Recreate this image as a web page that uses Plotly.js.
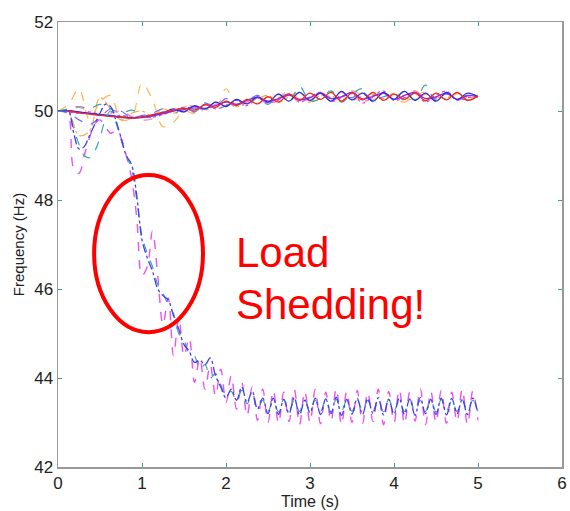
<!DOCTYPE html>
<html>
<head>
<meta charset="utf-8">
<script src="https://cdn.plot.ly/plotly-3.0.1.min.js"></script>
<style>html,body{margin:0;padding:0;background:#fff;}#chart{width:570px;height:511px;}</style>
</head>
<body>
<div id="chart"></div>
<script>
// Time grids (s)
const timeFine = [0,0.0625,0.125,0.1875,0.25,0.3125,0.375,0.4375,0.5,0.5625,0.625,0.6875,0.75,0.8125,0.875,0.9375,1,1.0625,1.125,1.1875,1.25,1.3125,1.375,1.4375,1.5,1.5625,1.625,1.6875,1.75,1.8125,1.875,1.9375,2,2.0625,2.125,2.1875,2.25,2.3125,2.375,2.4375,2.5,2.5625,2.625,2.6875,2.75,2.8125,2.875,2.9375,3,3.0625,3.125,3.1875,3.25,3.3125,3.375,3.4375,3.5,3.5625,3.625,3.6875,3.75,3.8125,3.875,3.9375,4,4.0625,4.125,4.1875,4.25,4.3125,4.375,4.4375,4.5,4.5625,4.625,4.6875,4.75,4.8125,4.875,4.9375,5];
const timeCoarse = [0,0.125,0.25,0.375,0.5,0.625,0.75,0.875,1,1.125,1.25,1.375,1.5,1.625,1.75,1.875,2,2.125,2.25,2.375,2.5,2.625,2.75,2.875,3,3.125,3.25,3.375,3.5,3.625,3.75,3.875,4,4.125,4.25,4.375,4.5,4.625,4.75,4.875,5];

// Collapsing buses (Hz)
const collapseBlue = [50.00,50.00,50.00,49.50,49.15,49.20,49.45,49.70,49.95,50.15,
  50.10,49.80,49.40,49.00,48.80,48.10,47.10,46.70,46.40,46.00,
  45.85,45.75,45.40,45.10,44.75,44.60,44.35,44.40,44.30,44.45,
  44.05,43.80,43.55,43.75,43.50,43.80,43.45,43.70,43.30,43.55,
  43.20,43.55,43.18,43.52,43.20,43.56,43.17,43.50,43.22,43.55,
  43.18,43.53,43.20,43.57,43.16,43.52,43.19,43.55,43.18,43.54,
  43.20,43.56,43.17,43.52,43.19,43.55,43.18,43.53,43.16,43.56,
  43.20,43.52,43.18,43.55,43.17,43.54,43.20,43.52,43.18,43.55,43.20];
const collapseTeal = [50.00,50.00,49.95,49.60,49.25,49.00,48.95,49.10,49.40,49.80,
  50.00,49.75,49.35,49.00,48.70,48.00,47.20,46.80,46.50,46.10,
  45.90,45.65,45.45,45.00,44.85,44.55,44.50,44.20,44.30,44.00,
  44.10,43.85,43.60,43.70,43.48,43.72,43.42,43.62,43.30,43.50,
  43.25,43.50,43.24,43.52,43.26,43.50,43.25,43.51,43.27,43.50,
  43.25,43.50,43.24,43.52,43.26,43.50,43.25,43.51,43.27,43.50,
  43.25,43.50,43.24,43.52,43.26,43.50,43.25,43.51,43.27,43.50,
  43.25,43.50,43.24,43.52,43.26,43.50,43.25,43.51,43.27,43.50,43.25];
const collapseMagenta = [50.00,50.00,49.90,48.70,48.60,49.00,49.40,49.70,49.80,49.65,
  49.50,49.55,49.40,49.00,48.50,47.60,46.30,46.50,47.30,46.30,
  45.20,45.80,44.50,45.35,44.50,44.90,43.90,44.45,43.75,44.30,
  43.60,44.20,43.45,44.05,43.30,43.90,43.15,43.80,43.05,43.75,
  43.00,43.72,42.98,43.68,43.02,43.75,42.95,43.70,43.00,43.74,
  42.97,43.68,43.03,43.76,42.95,43.70,43.00,43.72,42.98,43.68,
  43.02,43.75,42.95,43.70,43.00,43.74,42.97,43.68,43.03,43.76,
  42.95,43.70,43.00,43.72,42.98,43.68,43.02,43.75,42.95,43.70,43.05];

// Surviving buses (Hz)
const busRed = [50.00,50.00,49.96,49.93,49.90,49.88,49.86,49.84,49.86,49.92,49.97,50.02,50.06,50.02,50.14,50.08,50.22,50.12,50.26,50.16,50.32,50.20,50.38,50.24,50.40,50.26,50.42,50.22,50.40,50.25,50.42,50.24,50.38,50.26,50.41,50.23,50.40,50.25,50.42,50.24,50.34];
const busBlue = [50.00,50.01,49.98,49.94,49.92,49.89,49.87,49.85,49.87,49.91,49.96,50.05,49.98,50.12,50.04,50.20,50.10,50.26,50.16,50.32,50.20,50.38,50.22,50.42,50.24,50.40,50.22,50.44,50.25,50.40,50.22,50.42,50.26,50.44,50.24,50.40,50.22,50.42,50.26,50.40,50.32];
const busPurple = [50.00,50.00,49.97,49.95,49.92,49.90,49.86,49.84,49.85,49.89,49.94,50.00,50.03,50.10,50.06,50.12,50.20,50.15,50.24,50.30,50.22,50.28,50.36,50.26,50.30,50.40,50.28,50.32,50.42,50.27,50.33,50.40,50.26,50.35,50.42,50.28,50.32,50.40,50.26,50.34,50.33];
const busTeal = [50.00,50.05,50.10,50.05,50.15,50.05,49.95,50.02,49.90,49.85,49.98,49.92,50.10,49.98,50.18,50.05,50.12,50.25,50.10,50.32,50.15,50.38,50.20,50.55,50.22,50.28,50.45,50.20,50.38,50.50,50.22,50.40,50.28,50.45,50.25,50.58,50.22,50.40,50.30,50.25,50.32];
const busPink = [50.00,50.02,50.08,49.98,49.90,49.95,50.00,49.88,49.80,49.82,49.95,50.05,49.98,50.10,50.02,50.15,50.22,50.08,50.20,50.30,50.15,50.25,50.38,50.20,50.30,50.42,50.25,50.32,50.45,50.22,50.30,50.40,50.25,50.35,50.45,50.28,50.30,50.42,50.25,50.35,50.30];
const busOrangeA = [50.00,50.15,50.50,49.80,50.20,50.35,49.80,49.85,50.62,50.25,49.65,49.75,50.00,49.95,50.15,50.05,50.50,50.10,50.20,50.35,50.20,50.30,50.45,50.25,50.20,50.40,50.30,50.22,50.45,50.35,50.25,50.40,50.30,50.20,50.35,50.42,50.25,50.30,50.38,50.25,50.30];
const busOrangeB = [50.00,49.95,49.45,49.55,50.30,50.05,49.80,49.95,50.00,49.88,50.05,49.95,50.08,50.12,50.00,50.20,50.12,50.25,50.18,50.28,50.35,50.20,50.32,50.40,50.22,50.35,50.30,50.42,50.25,50.33,50.38,50.28,50.40,50.30,50.25,50.38,50.32,50.28,50.40,50.30,50.32];
const busMagenta = [50.00,49.98,49.95,49.98,49.92,49.88,49.90,49.86,49.88,49.86,49.92,50.00,50.08,49.98,50.15,50.05,50.12,50.24,50.12,50.30,50.18,50.25,50.38,50.20,50.32,50.42,50.22,50.30,50.40,50.18,50.34,50.45,50.24,50.30,50.42,50.20,50.36,50.44,50.24,50.30,50.33];
const busLightBlue = [50.00,49.95,49.80,49.70,49.85,50.05,50.00,49.85,49.90,49.95,50.05,50.00,50.10,50.05,50.18,50.10,50.28,50.15,50.22,50.35,50.20,50.30,50.38,50.25,50.30,50.40,50.22,50.35,50.30,50.42,50.25,50.32,50.38,50.25,50.40,50.30,50.28,50.38,50.30,50.35,50.33];

const xTicks = [0,1,2,3,4,5,6];
const yTicks = [42,44,46,48,50,52];

function tr(x, y, color, dash, width) {
  return {x: x, y: y, type: 'scatter', mode: 'lines',
    line: {color: color, dash: dash, width: width || 1.2, shape: 'spline', smoothing: 1},
    hoverinfo: 'skip', showlegend: false};
}

const data = [
  tr(timeCoarse, busOrangeA, '#ffb84d', 'dash'),
  tr(timeCoarse, busOrangeB, '#f8a840', 'dashdot'),
  tr(timeCoarse, busTeal, '#3aa5a5', 'dash'),
  tr(timeCoarse, busPink, '#ff80c0', 'dash'),
  tr(timeCoarse, busLightBlue, '#7070ff', 'dash'),
  tr(timeCoarse, busMagenta, '#e040e0', 'dot'),
  tr(timeCoarse, busPurple, '#8a2be2', 'solid', 1.3),
  tr(timeCoarse, busBlue, '#2a2ae8', 'solid', 1.2),
  tr(timeCoarse, busRed, '#f02828', 'solid', 1.3),
  tr(timeFine, collapseMagenta, '#f050f0', 'dash', 1.4),
  tr(timeFine, collapseTeal, '#40a8a8', 'dash', 1.2),
  tr(timeFine, collapseBlue, '#4040f0', 'dashdot', 1.3)
];

const axisFont = {family: 'Liberation Sans, Arial, sans-serif', size: 17, color: '#222'};

const layout = {
  width: 570, height: 511,
  margin: {l: 58, r: 8, t: 22, b: 44, pad: 0},
  paper_bgcolor: '#fff', plot_bgcolor: '#fff',
  xaxis: {
    range: [0, 6], tickvals: xTicks, ticktext: xTicks.map(String),
    ticks: 'inside', ticklen: 4, tickcolor: '#3a9c9c', tickwidth: 1,
    showline: true, linecolor: '#999', linewidth: 1.5, mirror: 'ticks',
    showgrid: false, zeroline: false, tickfont: axisFont,
    title: {text: 'Time (s)', font: {family: 'Liberation Sans, Arial, sans-serif', size: 16, color: '#222'}, standoff: 0}
  },
  yaxis: {
    range: [42, 52], tickvals: yTicks, ticktext: yTicks.map(String),
    ticks: 'inside', ticklen: 4, tickcolor: '#3a9c9c', tickwidth: 1,
    showline: true, linecolor: '#999', linewidth: 1.5, mirror: 'ticks',
    showgrid: false, zeroline: false, tickfont: axisFont,
    title: {text: 'Frequency (Hz)', font: {family: 'Liberation Sans, Arial, sans-serif', size: 15, color: '#222'}, standoff: 6}
  },
  shapes: [{type: 'circle', xref: 'x', yref: 'y', x0: 0.43, x1: 1.726, y0: 45.03, y1: 48.56,
    line: {color: '#ff0000', width: 4}}],
  annotations: [
    {text: 'Load', xref: 'x', yref: 'y', x: 2.1, y: 46.83, xanchor: 'left', yanchor: 'middle', showarrow: false,
     font: {family: 'Liberation Sans, Arial, sans-serif', size: 42, color: '#ff0000'}},
    {text: 'Shedding!', xref: 'x', yref: 'y', x: 2.1, y: 45.66, xanchor: 'left', yanchor: 'middle', showarrow: false,
     font: {family: 'Liberation Sans, Arial, sans-serif', size: 42, color: '#ff0000'}}
  ]
};

Plotly.newPlot('chart', data, layout, {displayModeBar: false, staticPlot: true});
</script>
</body>
</html>
